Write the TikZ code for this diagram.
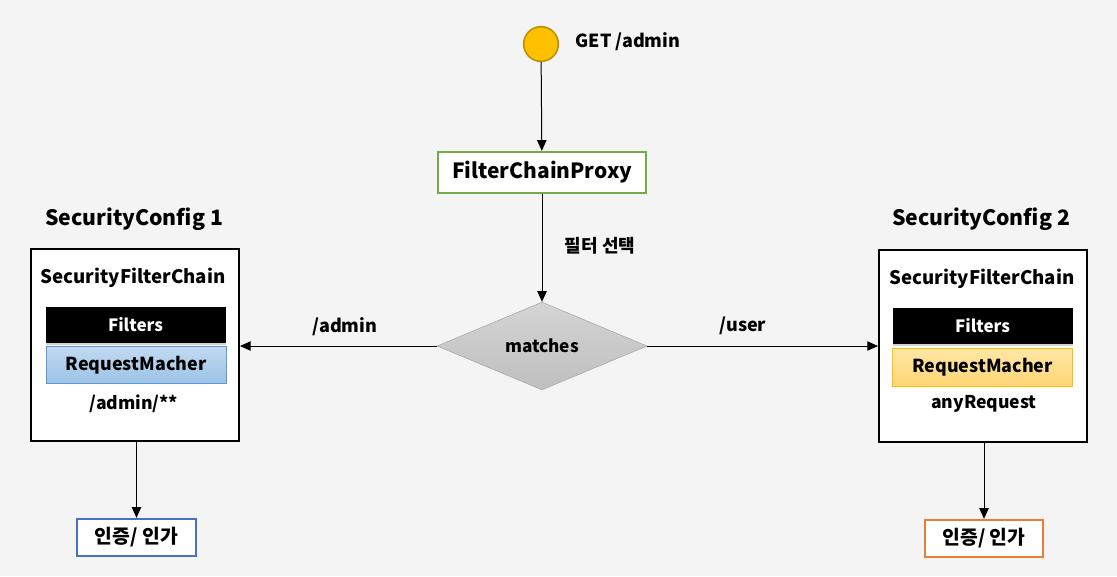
\documentclass[tikz,border=0pt]{standalone}
\usepackage{fontspec}
\setmainfont{Noto Sans CJK KR}
\usetikzlibrary{arrows.meta,shapes.geometric,shadows}

\definecolor{bgcol}{HTML}{F4F4F4}
\definecolor{startfill}{HTML}{FFC000}
\definecolor{startline}{HTML}{BF9000}
\definecolor{proxyline}{HTML}{70AD47}
\definecolor{blueline}{HTML}{5B9BD5}
\definecolor{bluetop}{HTML}{C2DAF1}
\definecolor{bluebottom}{HTML}{9CC2E6}
\definecolor{yellowtop}{HTML}{FFE7A6}
\definecolor{yellowbottom}{HTML}{FFD572}
\definecolor{authblue}{HTML}{4472C4}
\definecolor{authorange}{HTML}{ED7D31}

\tikzset{
  box/.style={draw=black, line width=1.5pt, fill=white, inner sep=0pt},
  label/.style={font=\bfseries\fontsize{13.5}{16}\selectfont},
  filterbar/.style={fill=black, text=white, inner sep=0pt, minimum width=135pt,
    minimum height=27pt, font=\bfseries\fontsize{12.7}{15}\selectfont,
    drop shadow={shadow xshift=0pt, shadow yshift=-1.5pt, opacity=0.35}},
  matcher/.style={inner sep=0pt, minimum width=135pt, minimum height=28pt,
    font=\bfseries\fontsize{13.4}{16}\selectfont, line width=0.75pt},
  authbox/.style={draw, fill=white, line width=1.5pt, inner sep=0pt,
    minimum width=89pt, minimum height=28pt, font=\bfseries\fontsize{14.5}{17}\selectfont}
}

\begin{document}
\begin{tikzpicture}[x=0.75pt, y=-0.75pt, >={Triangle[width=7pt,length=8pt]}]
  \fill[bgcol] (0,0) rectangle (1117,576);

  %request and proxy
  \node[circle, draw=startline, fill=startfill, line width=1.2pt, minimum size=26pt, inner sep=0pt] (start) at (541,44) {};
  \node[label, anchor=west] (get) at (571,42) {GET /admin};
  \node[draw=proxyline, line width=1.5pt, fill=white, minimum width=156pt, minimum height=31pt,
    inner sep=0pt, font=\bfseries\fontsize{15.7}{18}\selectfont] (proxy) at (542,172.5) {FilterChainProxy};
  \node[shape=diamond, draw=black!35, top color=black!17, bottom color=black!25, inner sep=0pt,
    minimum width=157.5pt, minimum height=64.5pt, font=\bfseries\fontsize{12.9}{15}\selectfont] (match) at (542,346) {matches};

  %left chain
  \node[box, minimum width=156pt, minimum height=144pt] (chainA) at (135,345) {};
  \node[font=\bfseries\fontsize{15.9}{19}\selectfont] (configA) at (134,219) {SecurityConfig 1};
  \node[font=\bfseries\fontsize{14}{17}\selectfont] (titleA) at (133,278) {SecurityFilterChain};
  \node[filterbar] (filtersA) at (135.5,325) {Filters};
  \node[matcher, draw=blueline, top color=bluetop, bottom color=bluebottom] (macherA) at (136,365) {RequestMacher};
  \node[font=\bfseries\fontsize{13.2}{16}\selectfont] (pathA) at (134,404) {/admin/**};

  %right chain
  \node[box, minimum width=156pt, minimum height=144pt] (chainB) at (983,345.5) {};
  \node[font=\bfseries\fontsize{15.9}{19}\selectfont] (configB) at (981,219) {SecurityConfig 2};
  \node[font=\bfseries\fontsize{14}{17}\selectfont] (titleB) at (982,279) {SecurityFilterChain};
  \node[filterbar] (filtersB) at (982.5,326) {Filters};
  \node[matcher, draw=startfill, top color=yellowtop, bottom color=yellowbottom] (macherB) at (982.5,367.5) {RequestMacher};
  \node[font=\bfseries\fontsize{13.2}{16}\selectfont] (pathB) at (984,404) {anyRequest};

  %results
  \node[authbox, draw=authblue] (authA) at (136.5,537.5) {인증/ 인가};
  \node[authbox, draw=authorange] (authB) at (984,538.5) {인증/ 인가};

  %labels on arrows
  \node[label] (pick) at (600,246) {필터 선택};
  \node[label] (toA) at (345,327) {/admin};
  \node[label] (toB) at (743,326) {/user};

  %arrows
  \draw[->, line width=0.75pt] (start) -- (proxy);
  \draw[->, line width=0.75pt] (proxy) -- (match);
  \draw[->, line width=0.75pt] (match.west) -- (chainA.east |- match.west);
  \draw[->, line width=0.75pt] (match.east) -- (chainB.west |- match.east);
  \draw[->, line width=0.75pt] (chainA.south -| authA.north) -- (authA.north);
  \draw[->, line width=0.75pt] (chainB.south -| authB.north) -- (authB.north);
\end{tikzpicture}
\end{document}
